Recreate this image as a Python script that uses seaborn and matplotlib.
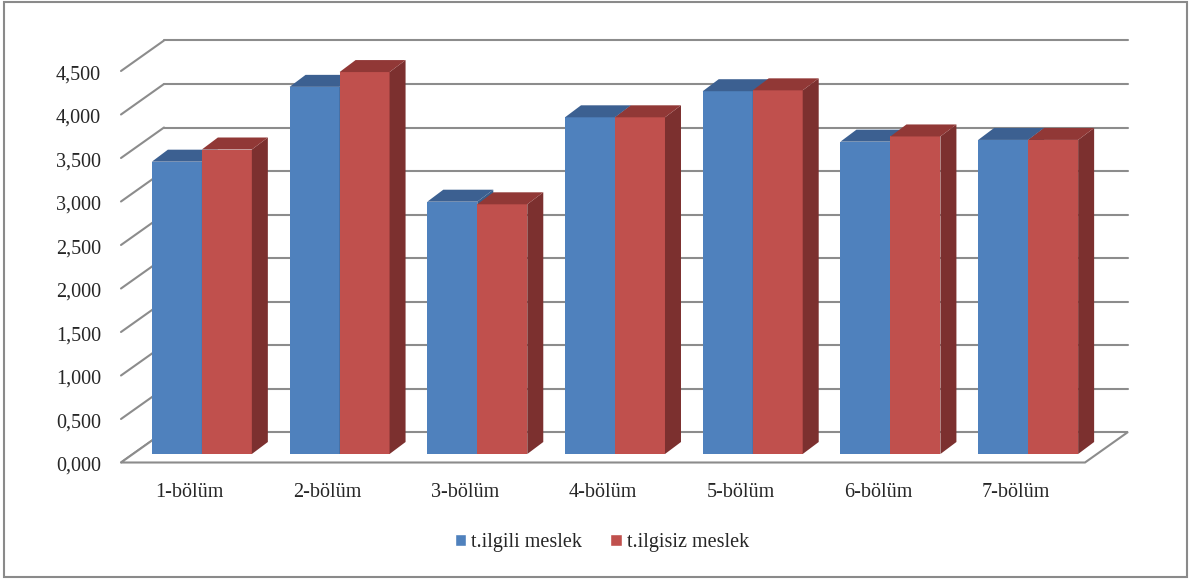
import matplotlib
matplotlib.use("Agg")
import matplotlib.pyplot as plt
from matplotlib.patches import Polygon, Rectangle
import pandas as pd
import seaborn as sns

sns.set_style("white")
plt.rcParams['font.family'] = ['Liberation Serif', 'DejaVu Serif']

# values
bolumler = ["1-bölüm", "2-bölüm", "3-bölüm", "4-bölüm", "5-bölüm", "6-bölüm", "7-bölüm"]
ilgili = [3.36, 4.22, 2.90, 3.87, 4.17, 3.59, 3.61]
ilgisiz = [3.50, 4.39, 2.87, 3.87, 4.18, 3.65, 3.61]
seriler = ["t.ilgili meslek", "t.ilgisiz meslek"]
yticks = [0, 0.5, 1, 1.5, 2, 2.5, 3, 3.5, 4, 4.5]

df = pd.DataFrame({
    "bolum": bolumler * 2,
    "deger": ilgili + ilgisiz,
    "seri": [seriler[0]] * len(bolumler) + [seriler[1]] * len(bolumler),
})

FRONT = ["#4F81BD", "#C0504D"]
TOP = ["#3C6091", "#913836"]
SIDE = ["#385D8A", "#7C302F"]
GRID = "#8C8C8C"

# layout in pixels (figure is 1189x581 at dpi 100)
W, H = 1189, 581
L, R = 133, 1097          # bar front plane, x range
Y0, PX_PER_UNIT = 454, 87  # value 0 and scale
ymax = 4.5
Ytop = Y0 - ymax * PX_PER_UNIT

fig = plt.figure(figsize=(W / 100, H / 100), dpi=100)
ax = fig.add_axes([L / W, (H - Y0) / H, (R - L) / W, (Y0 - Ytop) / H])

sns.barplot(data=df, x="bolum", y="deger", hue="seri", hue_order=seriler,
            palette=FRONT, width=0.726, gap=0, saturation=1, ax=ax)
ax.set_xlim(-0.5, len(bolumler) - 0.5)
ax.set_ylim(0, ymax)
ax.axis('off')

sx = (R - L) / len(bolumler)
sy = PX_PER_UNIT

def px(dx, dy):
    return dx / sx, dy / sy

# oblique offsets (px) relative to bar front plane
bdx, bdy = px(16, 12)      # bar depth
wdx, wdy = px(31, 22)      # back wall
fdx, fdy = px(-12, -8.5)   # floor front edge
xl, xr = -0.5, len(bolumler) - 0.5

# back wall gridlines + left wall diagonals
for v in yticks[1:]:
    ax.plot([xl + wdx, xr + wdx], [v + wdy, v + wdy], color=GRID, lw=1.5,
            zorder=1, clip_on=False)
for v in yticks:
    ax.plot([xl + fdx, xl + wdx], [v + fdy, v + wdy], color=GRID, lw=1.5,
            zorder=1, clip_on=False)
    ax.text(xl + fdx - 20 / sx, v + fdy - 8.5 / sy, f"{v:.3f}".replace('.', ','),
            ha='right', va='baseline', fontsize=14.5)

# floor
floor = Polygon([(xl + fdx, fdy), (xr + fdx, fdy), (xr + wdx, wdy), (xl + wdx, wdy)],
                closed=True, fc='white', ec=GRID, lw=1.5, zorder=1, clip_on=False)
ax.add_patch(floor)

# 3d faces for the bars
for k, cont in enumerate(ax.containers):
    z = 3 + 2 * k
    for bar in cont:
        x0, w, h = bar.get_x(), bar.get_width(), bar.get_height()
        x1 = x0 + w
        bar.set_zorder(z)
        bar.set_edgecolor('none')
        bar.set_clip_on(False)
        ax.add_patch(Polygon([(x1, 0), (x1 + bdx, bdy), (x1 + bdx, h + bdy), (x1, h)],
                             closed=True, fc=SIDE[k], ec='none', zorder=z, clip_on=False))
        ax.add_patch(Polygon([(x0, h), (x1, h), (x1 + bdx, h + bdy), (x0 + bdx, h + bdy)],
                             closed=True, fc=TOP[k], ec='none', zorder=z, clip_on=False))

# category labels
for i, name in enumerate(bolumler):
    ax.text(i - 12 / sx, -(497 - Y0) / sy, name, ha='center', va='baseline', fontsize=14.5)

sns.move_legend(ax, "center", bbox_to_anchor=(602 / W, (H - 543) / H),
                bbox_transform=fig.transFigure, ncol=2, frameon=False, title=None,
                fontsize=14.5, handlelength=0.55, handleheight=0.55,
                handletextpad=0.25, columnspacing=1.4)

# chart area border
fig.add_artist(Rectangle((4 / W, 4 / H), 1183 / W, 575 / H, transform=fig.transFigure,
                         fill=False, ec="#8A8A8A", lw=1.5))

fig.savefig("out.png", dpi=100)
